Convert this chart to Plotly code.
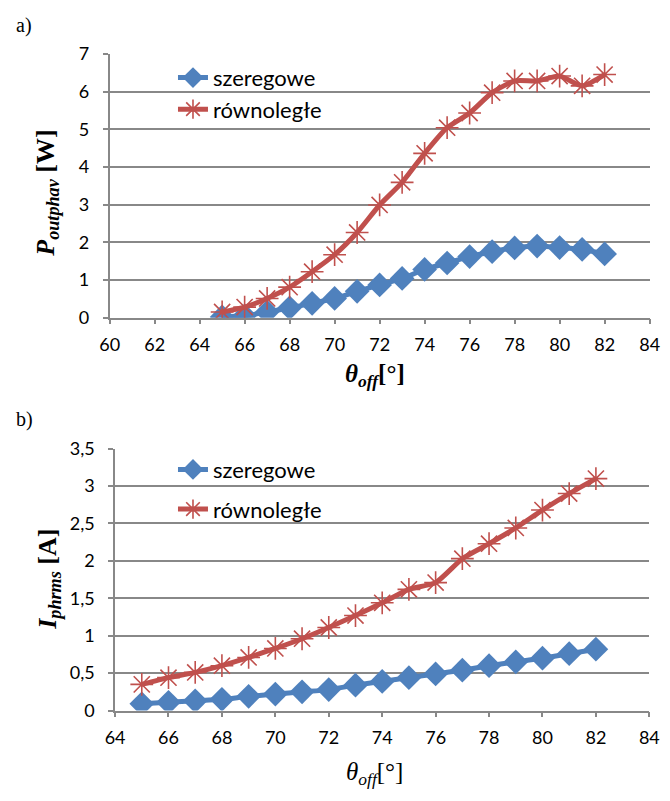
import plotly.graph_objects as go

# ---- data ----
theta = [65, 66, 67, 68, 69, 70, 71, 72, 73, 74, 75, 76, 77, 78, 79, 80, 81, 82]

p_szeregowe = [0.02, 0.05, 0.15, 0.26, 0.38, 0.51, 0.70, 0.87, 1.04, 1.28, 1.45, 1.62, 1.75, 1.85, 1.90, 1.86, 1.81, 1.69]
p_rownolegle = [0.15, 0.28, 0.51, 0.81, 1.22, 1.67, 2.26, 2.99, 3.59, 4.36, 5.04, 5.43, 5.97, 6.28, 6.28, 6.41, 6.15, 6.45]

i_szeregowe = [0.09, 0.11, 0.13, 0.15, 0.19, 0.22, 0.25, 0.28, 0.34, 0.39, 0.44, 0.49, 0.54, 0.60, 0.65, 0.70, 0.76, 0.82]
i_rownolegle = [0.35, 0.44, 0.51, 0.60, 0.71, 0.83, 0.96, 1.11, 1.27, 1.44, 1.62, 1.71, 2.03, 2.23, 2.44, 2.68, 2.90, 3.10]

series_names = ["szeregowe", "równoległe"]

top_xticks = [60, 62, 64, 66, 68, 70, 72, 74, 76, 78, 80, 82, 84]
top_yticks = [0, 1, 2, 3, 4, 5, 6, 7]
bot_xticks = [64, 66, 68, 70, 72, 74, 76, 78, 80, 82, 84]
bot_yticks = [0, 0.5, 1, 1.5, 2, 2.5, 3, 3.5]
bot_yticktext = ["0", "0,5", "1", "1,5", "2", "2,5", "3", "3,5"]

top_xtitle = "<b><i>θ</i><sub><i>off</i></sub>[°]</b>"
top_ytitle = "<b><i>P</i><sub><i>outphav</i></sub> [W]</b>"
bot_xtitle = "<i>θ</i><sub><i>off</i></sub>[°]"
bot_ytitle = "<b><i>I</i><sub><i>phrms</i></sub> [A]</b>"

BLUE = "#4F81BD"
RED = "#C0504D"
GRID = "#888888"
TICKFONT = dict(family="Lato", size=18, color="black")
SERIF = "Liberation Serif"

W, H = 670, 801

fig = go.Figure()

def add_pair(xa, ya, yb1, yb2, legend):
    fig.add_trace(go.Scatter(
        x=theta, y=yb1, name=series_names[0], mode="lines+markers",
        xaxis=xa, yaxis=ya, legend=legend, legendgroup=legend + "a",
        line=dict(color=BLUE, width=5, shape="spline", smoothing=0.6),
        marker=dict(symbol="diamond", size=19, color=BLUE),
    ))
    fig.add_trace(go.Scatter(
        x=theta, y=yb2, name=series_names[1], mode="lines+markers",
        xaxis=xa, yaxis=ya, legend=legend, legendgroup=legend + "b",
        line=dict(color=RED, width=5, shape="spline", smoothing=0.6),
        marker=dict(symbol="asterisk-open", size=19, color=RED,
                    line=dict(color=RED, width=1.6)),
    ))

add_pair("x", "y", p_szeregowe, p_rownolegle, "legend")
add_pair("x2", "y2", i_szeregowe, i_rownolegle, "legend2")

def px_x(p):
    return p / W

def px_y(p):
    return (H - p) / H

axis_common = dict(
    showline=True, linecolor=GRID, linewidth=1.5,
    ticks="outside", ticklen=5, tickcolor=GRID, tickwidth=1.5,
    tickfont=TICKFONT, zeroline=False,
)

def ann(text, xp, yp, size, angle=0, family=SERIF):
    return dict(text=text, x=px_x(xp), y=px_y(yp), xref="paper", yref="paper",
                xanchor="center", yanchor="middle", showarrow=False,
                textangle=angle, font=dict(family=family, size=size, color="black"))

fig.update_layout(
    width=W, height=H,
    margin=dict(l=0, r=0, t=0, b=0),
    paper_bgcolor="white", plot_bgcolor="white",
    showlegend=True,
    xaxis=dict(domain=[px_x(102.7), px_x(659.3)], range=[60, 84],
               tickvals=top_xticks, showgrid=False, anchor="y",
               ticklabelstandoff=5, **axis_common),
    yaxis=dict(domain=[px_y(314.3), px_y(43)], range=[0, 7],
               tickvals=top_yticks, showgrid=True, gridcolor=GRID, gridwidth=1.5,
               anchor="x", ticklabelstandoff=10, **axis_common),
    xaxis2=dict(domain=[px_x(108.3), px_x(659)], range=[64, 84],
                tickvals=bot_xticks, showgrid=False, anchor="y2",
                ticklabelstandoff=5, **axis_common),
    yaxis2=dict(domain=[px_y(718.3), px_y(449)], range=[0, 3.5],
                tickvals=bot_yticks, ticktext=bot_yticktext,
                showgrid=True, gridcolor=GRID, gridwidth=1.5, anchor="x2",
                ticklabelstandoff=10, **axis_common),
    legend=dict(x=px_x(168), y=px_y(46), xanchor="left", yanchor="top",
                bgcolor="rgba(0,0,0,0)", font=dict(family="Lato", size=22, color="black"),
                tracegroupgap=0, itemwidth=30),
    legend2=dict(x=px_x(168), y=px_y(449), xanchor="left", yanchor="top",
                 bgcolor="rgba(0,0,0,0)", font=dict(family="Lato", size=22, color="black"),
                 tracegroupgap=8, itemwidth=30),
    annotations=[
        dict(text="a)", x=px_x(4), y=px_y(14), xref="paper", yref="paper",
             xanchor="left", yanchor="middle", showarrow=False,
             font=dict(family=SERIF, size=20, color="black")),
        dict(text="b)", x=px_x(4), y=px_y(419), xref="paper", yref="paper",
             xanchor="left", yanchor="middle", showarrow=False,
             font=dict(family=SERIF, size=20, color="black")),
        ann(top_xtitle, 376, 374, 25),
        ann(top_ytitle, 38, 186, 26, angle=-90),
        ann(bot_xtitle, 376, 783, 25),
        ann(bot_ytitle, 40, 583, 26, angle=-90),
    ],
)

fig.write_html("out.html")
